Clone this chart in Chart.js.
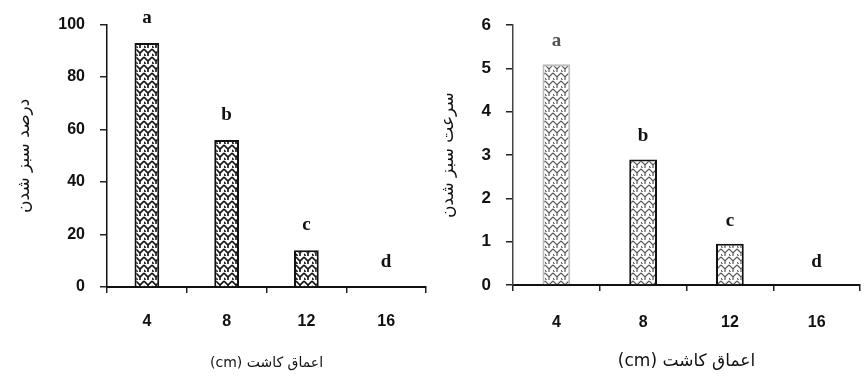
<!DOCTYPE html>
<html>
<head>
<meta charset="utf-8">
<script src="https://cdn.jsdelivr.net/npm/chart.js@4/dist/chart.umd.min.js"></script>
<style>
  html, body { margin: 0; padding: 0; background: #fff; }
  #wrap { position: relative; width: 866px; height: 383px; overflow: hidden; }
  canvas { position: absolute; top: 0; }
  #left { left: 0; }
  #right { left: 433px; }
</style>
</head>
<body>
<div id="wrap">
  <canvas id="left" width="433" height="383"></canvas>
  <canvas id="right" width="433" height="383"></canvas>
</div>
<script>
// Planting depths (cm)
const depthLabels = ['4', '8', '12', '16'];
// Emergence percentage at each depth
const emergencePercent = [93, 56, 14, 0];
// Emergence rate at each depth
const emergenceRate = [5.1, 2.9, 0.95, 0];
// Mean-separation letters
const groupLetters = ['a', 'b', 'c', 'd'];

const percentTicks = { min: 0, max: 100, step: 20 };
const rateTicks = { min: 0, max: 6, step: 1 };

// Unit written first so it sits on the left in an LTR canvas
const depthTitle = '(cm) اعماق کاشت';

// Zigzag hatch used to fill the bars
function zigzagPattern(ink, bg, lw) {
  const c = document.createElement('canvas');
  c.width = 8; c.height = 8;
  const g = c.getContext('2d');
  g.fillStyle = bg;
  g.fillRect(0, 0, 8, 8);
  g.strokeStyle = ink;
  g.lineWidth = lw;
  g.beginPath();
  g.moveTo(0, 1); g.lineTo(4, 5); g.lineTo(8, 1);
  g.moveTo(4, 5); g.lineTo(4, 8);
  g.moveTo(0, 6); g.lineTo(1.5, 8);
  g.stroke();
  return g.createPattern(c, 'repeat');
}

// Letters written above each bar
const letterPlugin = {
  id: 'groupLetters',
  afterDatasetsDraw(chart, args, opts) {
    const meta = chart.getDatasetMeta(0);
    const ctx = chart.ctx;
    ctx.save();
    ctx.font = opts.font;
    ctx.textAlign = 'center';
    ctx.textBaseline = 'middle';
    meta.data.forEach((bar, i) => {
      ctx.fillStyle = opts.colors[i];
      ctx.fillText(opts.labels[i], bar.x, bar.y - opts.gap);
    });
    ctx.restore();
  }
};

function makeChart(id, values, ticksCfg, yTitle, cfg) {
  return new Chart(document.getElementById(id), {
    type: 'bar',
    data: {
      labels: depthLabels,
      datasets: [{
        data: values,
        backgroundColor: cfg.fill,
        borderColor: cfg.border,
        borderWidth: cfg.borderWidth,
        borderSkipped: 'bottom',
        barPercentage: cfg.barPct,
        categoryPercentage: 1
      }]
    },
    plugins: [letterPlugin],
    options: {
      responsive: false,
      animation: false,
      events: [],
      layout: { padding: { top: cfg.top, right: cfg.right, bottom: 0, left: 0 } },
      plugins: {
        legend: { display: false },
        tooltip: { enabled: false },
        groupLetters: { labels: groupLetters, font: cfg.letterFont, colors: cfg.letterColors, gap: cfg.letterGap }
      },
      scales: {
        x: {
          grid: { display: true, drawOnChartArea: false, drawTicks: true, tickLength: 6, color: '#222', lineWidth: 1.5, offset: true },
          border: { display: true, color: '#111', width: 2 },
          ticks: { color: '#111', padding: cfg.xPad, font: cfg.xFont, maxRotation: 0 },
          title: {
            display: true,
            text: depthTitle,
            color: '#111',
            font: cfg.xTitleFont,
            padding: { top: 0, bottom: 11 }
          },
          afterFit(s) { s.height = cfg.xHeight; }
        },
        y: {
          min: ticksCfg.min,
          max: ticksCfg.max,
          grid: { display: true, drawOnChartArea: false, drawTicks: true, tickLength: 7, color: '#222', lineWidth: 1.5 },
          border: { display: true, color: cfg.yAxisColor, width: 1.5 },
          ticks: { stepSize: ticksCfg.step, color: '#111', padding: cfg.yPad, font: cfg.yFont },
          title: {
            display: true,
            text: yTitle,
            color: '#111',
            font: { family: 'DejaVu Sans', size: 17 },
            padding: { top: cfg.yTitleTop, bottom: 0 }
          },
          afterFit(s) { s.width = cfg.yWidth; }
        }
      }
    }
  });
}

makeChart('left', emergencePercent, percentTicks, 'درصد سبز شدن', {
  fill: zigzagPattern('#111', '#fff', 1.6),
  border: '#111',
  borderWidth: 2,
  barPct: 0.31,
  top: 20, right: 7,
  xHeight: 96, yWidth: 107,
  xPad: 19, yPad: 15,
  yTitleTop: 14,
  xFont: { family: 'Liberation Sans', size: 16, weight: 'bold' },
  yFont: { family: 'Liberation Sans', size: 16, weight: 'bold' },
  xTitleFont: { family: 'DejaVu Sans', size: 14 },
  yAxisColor: '#111',
  letterFont: 'bold 19px "Liberation Serif"',
  letterColors: ['#111', '#111', '#111', '#111'],
  letterGap: 25
});

makeChart('right', emergenceRate, rateTicks, 'سرعت سبز شدن', {
  fill: zigzagPattern('#555', '#fff', 1.2),
  border: ['#bbb', '#111', '#111', '#111'],
  borderWidth: 2,
  barPct: 0.32,
  top: 15, right: 6,
  xHeight: 98, yWidth: 80,
  xPad: 22, yPad: 15,
  yTitleTop: 5,
  xFont: { family: 'Liberation Sans', size: 16, weight: 'bold' },
  yFont: { family: 'Liberation Sans', size: 17, weight: 'bold' },
  xTitleFont: { family: 'DejaVu Sans', size: 17 },
  yAxisColor: '#444',
  letterFont: 'bold 19px "Liberation Serif"',
  letterColors: ['#555', '#111', '#111', '#111'],
  letterGap: 23
});
</script>
</body>
</html>
